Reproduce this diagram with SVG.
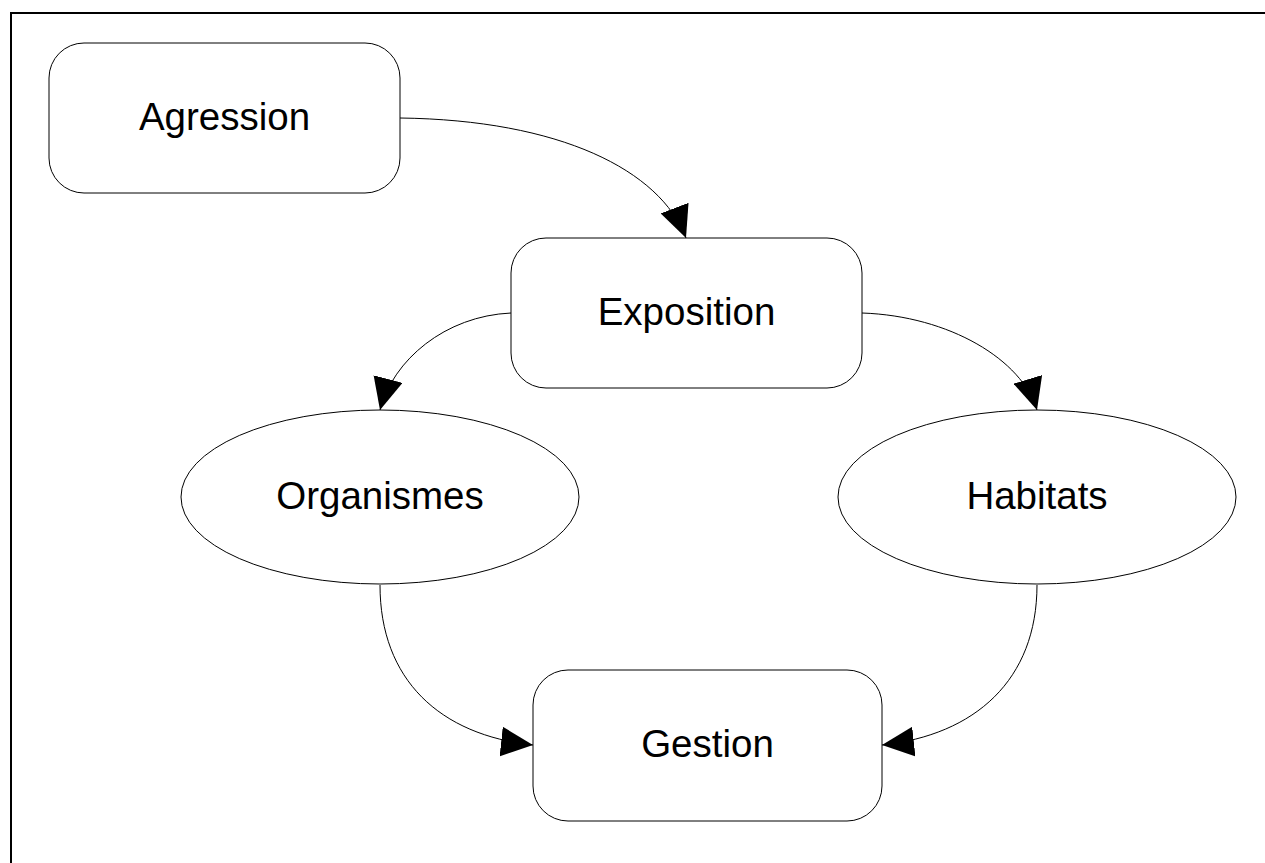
<svg xmlns="http://www.w3.org/2000/svg" width="1265" height="863" viewBox="0 0 1265 863">
<style>
.node{fill:#fff;stroke:#000;stroke-width:1}
.lbl{font-family:"Liberation Sans",Arial,sans-serif;font-size:38.5px;fill:#000;text-anchor:middle}
.edge{fill:none;stroke:#000;stroke-width:1}
</style>
<defs>
<marker id="ah" markerUnits="userSpaceOnUse" markerWidth="32" markerHeight="30" viewBox="0 0 30 28" refX="30" refY="14" orient="auto">
<path d="M0,0 L30,14 L0,28 Z" fill="#000"/>
</marker>
</defs>
<rect x="0" y="0" width="1265" height="863" fill="#fff"/>
<rect x="11" y="13" width="1270" height="870" fill="none" stroke="#000" stroke-width="2"/>
<g id="connectors">
<path class="edge" d="M400,118 C560,120 660,170 686,238" marker-end="url(#ah)"/>
<path class="edge" d="M511,313 C445,316 393,360 380,410" marker-end="url(#ah)"/>
<path class="edge" d="M862,313 C950,316 1022,360 1037,410" marker-end="url(#ah)"/>
<path class="edge" d="M380,585 C380,680 440,735 533,745" marker-end="url(#ah)"/>
<path class="edge" d="M1037,585 C1037,680 975,735 882,745" marker-end="url(#ah)"/>
</g>
<g id="agression">
<rect class="node" x="49" y="43" width="351" height="150" rx="35" ry="35"/>
<text class="lbl" x="224.5" y="130">Agression</text>
</g>
<g id="exposition">
<rect class="node" x="511" y="238" width="351" height="150" rx="35" ry="35"/>
<text class="lbl" x="686.5" y="325">Exposition</text>
</g>
<g id="organismes">
<ellipse class="node" cx="380" cy="497" rx="199" ry="87"/>
<text class="lbl" x="380" y="509">Organismes</text>
</g>
<g id="habitats">
<ellipse class="node" cx="1037" cy="497" rx="199" ry="87"/>
<text class="lbl" x="1037" y="509">Habitats</text>
</g>
<g id="gestion">
<rect class="node" x="533" y="670" width="349" height="151" rx="35" ry="35"/>
<text class="lbl" x="707.5" y="757">Gestion</text>
</g>
</svg>
